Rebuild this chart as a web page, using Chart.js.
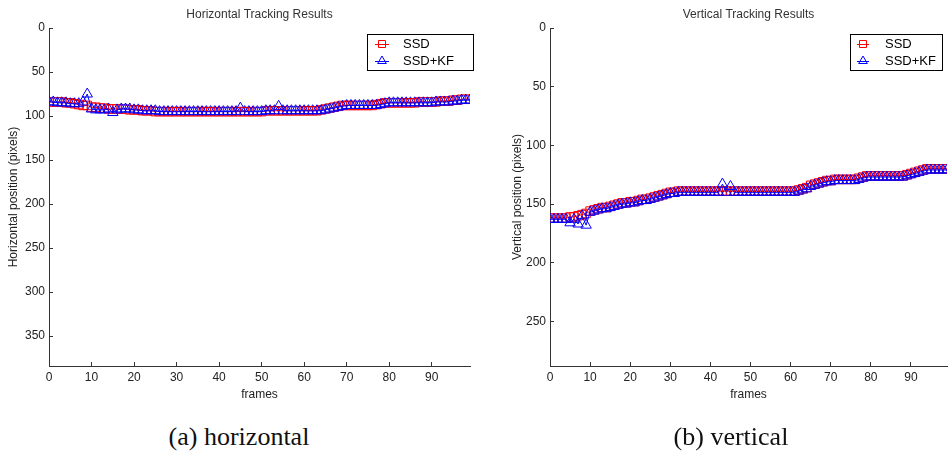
<!DOCTYPE html>
<html>
<head>
<meta charset="utf-8">
<script src="https://cdn.jsdelivr.net/npm/chart.js@4.4.1/dist/chart.umd.min.js"></script>
<style>
  body { margin: 0; background: #fff; }
  #wrap { position: relative; width: 949px; height: 454px; overflow: hidden; }
  .box { position: absolute; top: 0; height: 410px; }
  .cap { position: absolute; top: 422px; font-family: "Liberation Serif", serif; font-size: 26px; color: #111; text-align: center; }
</style>
</head>
<body>
<div id="wrap">
  <div class="box" style="left:0;width:480px"><canvas id="hChart" width="480" height="410"></canvas></div>
  <div class="box" style="left:470px;width:490px"><canvas id="vChart" width="490" height="410"></canvas></div>
  <div class="cap" style="left:0;width:478px">(a) horizontal</div>
  <div class="cap" style="left:470px;width:522px">(b) vertical</div>
</div>
<script>
// frame index (x axis)
const frames = Array.from({ length: 100 }, (_, i) => i);

// horizontal position, SSD only
const hSSD = [
  84, 84, 84, 84, 85, 85, 86, 87, 88, 88,
  90, 90, 91, 91, 92, 92, 92, 92, 92, 93,
  93, 93, 94, 94, 94, 95, 95, 95, 95, 95,
  95, 95, 95, 95, 95, 95, 95, 95, 95, 95,
  95, 95, 95, 95, 95, 95, 95, 95, 95, 95,
  95, 94, 94, 94, 94, 94, 94, 94, 94, 94,
  94, 94, 94, 94, 93, 92, 91, 90, 89, 88,
  88, 88, 88, 88, 88, 88, 88, 87, 86, 85,
  85, 85, 85, 85, 85, 85, 85, 84, 84, 84,
  84, 84, 83, 83, 83, 82, 82, 81, 81, 81
];
// horizontal position, SSD + Kalman filter
const hKF = [
  84, 84, 85, 85, 85, 86, 86, 86, 84, 75,
  92, 93, 93, 93, 92, 96, 93, 92, 92, 92,
  93, 93, 94, 94, 94, 94, 95, 95, 95, 95,
  95, 95, 95, 95, 95, 95, 95, 95, 95, 95,
  95, 95, 95, 95, 95, 91, 95, 95, 95, 95,
  95, 94, 94, 94, 89, 94, 94, 94, 94, 94,
  94, 94, 94, 94, 94, 93, 92, 91, 90, 89,
  88, 88, 88, 88, 88, 88, 88, 88, 87, 86,
  85, 85, 85, 85, 85, 85, 85, 85, 85, 85,
  85, 84, 84, 84, 84, 83, 83, 82, 82, 82
];
// vertical position, SSD only
const vSSD = [
  162, 162, 162, 162, 162, 161, 161, 160, 159, 158,
  156, 155, 154, 153, 153, 152, 151, 150, 149, 149,
  148, 148, 147, 146, 146, 145, 144, 143, 142, 141,
  140, 140, 139, 139, 139, 139, 139, 139, 139, 139,
  139, 139, 139, 139, 139, 139, 139, 139, 139, 139,
  139, 139, 139, 139, 139, 139, 139, 139, 139, 139,
  139, 139, 138, 137, 136, 134, 133, 132, 131, 130,
  130, 129, 129, 129, 129, 129, 129, 128, 127, 126,
  126, 126, 126, 126, 126, 126, 126, 126, 126, 125,
  124, 123, 122, 121, 120, 120, 120, 120, 120, 120
];
// vertical position, SSD + Kalman filter
const vKF = [
  163, 163, 163, 163, 163, 166, 163, 167, 160, 168,
  157, 156, 155, 154, 154, 153, 152, 151, 150, 150,
  149, 149, 148, 147, 147, 146, 145, 144, 143, 142,
  141, 141, 140, 140, 140, 140, 140, 140, 140, 140,
  140, 140, 140, 133, 140, 135, 140, 140, 140, 140,
  140, 140, 140, 140, 140, 140, 140, 140, 140, 140,
  140, 140, 139, 138, 137, 135, 134, 133, 132, 131,
  131, 130, 130, 130, 130, 130, 130, 129, 128, 127,
  127, 127, 127, 127, 127, 127, 127, 127, 127, 126,
  125, 124, 123, 122, 121, 121, 121, 121, 121, 121
];

Chart.defaults.font.family = '"Liberation Sans", Arial, sans-serif';
Chart.defaults.font.size = 12;
Chart.defaults.color = '#222';

// matlab style legend: framed box, line with marker
const boxLegend = {
  id: 'boxLegend',
  afterDraw(chart, args, o) {
    const ctx = chart.ctx;
    ctx.save();
    ctx.fillStyle = '#fff';
    ctx.fillRect(o.x, o.y, o.w, o.h);
    ctx.strokeStyle = '#000';
    ctx.lineWidth = 1;
    ctx.strokeRect(o.x + 0.5, o.y + 0.5, o.w, o.h);
    chart.data.datasets.forEach((ds, i) => {
      const cy = o.y + o.row0 + i * o.rowGap;
      const mx = (o.lx0 + o.lx1) / 2;
      ctx.strokeStyle = ds.borderColor;
      ctx.lineWidth = 1;
      ctx.beginPath();
      ctx.moveTo(o.lx0, cy + 0.5);
      ctx.lineTo(o.lx1, cy + 0.5);
      ctx.stroke();
      ctx.beginPath();
      if (ds.pointStyle === 'rect') {
        const s = 3.5;
        ctx.rect(mx - s, cy - s, 2 * s, 2 * s);
      } else {
        const r = 5;
        ctx.moveTo(mx, cy - r);
        ctx.lineTo(mx + 0.866 * r, cy + 0.5 * r);
        ctx.lineTo(mx - 0.866 * r, cy + 0.5 * r);
        ctx.closePath();
      }
      ctx.stroke();
      ctx.fillStyle = '#000';
      ctx.font = '13px "Liberation Sans", Arial, sans-serif';
      ctx.textBaseline = 'middle';
      ctx.textAlign = 'left';
      ctx.fillText(ds.label, o.tx, cy);
    });
    ctx.restore();
  }
};

function series(label, ys, color, style, order) {
  return {
    label: label,
    data: frames.map((f, i) => ({ x: f, y: ys[i] })),
    borderColor: color,
    backgroundColor: 'rgba(0,0,0,0)',
    pointBackgroundColor: 'rgba(0,0,0,0)',
    pointBorderColor: color,
    pointStyle: style,
    pointRadius: 6,
    pointBorderWidth: 1,
    borderWidth: 1,
    order: order
  };
}

function makeChart(id, cfg) {
  return new Chart(document.getElementById(id), {
    type: 'line',
    data: {
      datasets: [
        series('SSD', cfg.ssd, '#ff0000', 'rect', 1),
        series('SSD+KF', cfg.kf, '#0000ff', 'triangle', 0)
      ]
    },
    plugins: [boxLegend],
    options: {
      responsive: false,
      animation: false,
      layout: { padding: { left: cfg.padLeft, right: cfg.padRight, top: 0, bottom: 0 } },
      plugins: {
        legend: { display: false },
        tooltip: { enabled: false },
        title: {
          display: true,
          fullSize: false,
          text: cfg.title,
          color: '#333',
          font: { size: 12, weight: 'normal' },
          padding: { top: 7, bottom: 6.6 }
        },
        boxLegend: cfg.legend
      },
      scales: {
        x: {
          type: 'linear',
          min: 0,
          max: 99,
          ticks: { stepSize: 10, includeBounds: false, padding: 8, maxRotation: 0, color: '#222' },
          grid: { drawOnChartArea: false, tickLength: -4, color: '#333' },
          border: { color: '#333' },
          title: { display: true, text: 'frames', color: '#222', padding: { top: 2, bottom: 8 } },
          afterFit(s) { s.height = 44; }
        },
        y: {
          type: 'linear',
          reverse: true,
          min: 0,
          max: cfg.yMax,
          ticks: { stepSize: 50, includeBounds: false, padding: 8, color: '#222' },
          grid: { drawOnChartArea: false, tickLength: -4, color: '#333' },
          border: { color: '#333' },
          title: { display: true, text: cfg.yTitle, color: '#222', padding: { top: 6, bottom: 0 } },
          afterFit(s) { s.width = cfg.yWidth; }
        }
      }
    }
  });
}

makeChart('hChart', {
  title: 'Horizontal Tracking Results',
  yTitle: 'Horizontal position (pixels)',
  yMax: 384,
  ssd: hSSD,
  kf: hKF,
  padLeft: 0,
  padRight: 10,
  yWidth: 49,
  legend: { x: 367, y: 34, w: 106, h: 36, row0: 10, rowGap: 17, lx0: 375, lx1: 389, tx: 403 }
});

makeChart('vChart', {
  title: 'Vertical Tracking Results',
  yTitle: 'Vertical position (pixels)',
  yMax: 288,
  ssd: vSSD,
  kf: vKF,
  padLeft: 34,
  padRight: 13,
  yWidth: 46,
  legend: { x: 380, y: 34, w: 92, h: 36, row0: 10, rowGap: 17, lx0: 387, lx1: 399, tx: 415 }
});
</script>
</body>
</html>
